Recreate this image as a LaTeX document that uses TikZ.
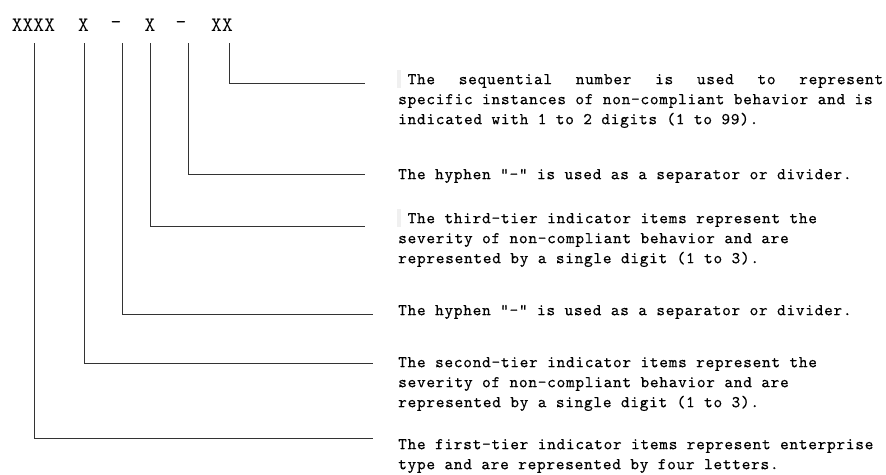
\documentclass[tikz,border=0pt]{standalone}
\usepackage{fontspec}
\newfontfamily\descfont{lmmono10-regular.otf}[LetterSpace=4.5,FakeBold=0.3]
\newfontfamily\codefont{lmmono10-regular.otf}
\begin{document}
\begin{tikzpicture}[x=1pt,y=-1pt,
  lead/.style={draw=black!80, line width=1pt},
  code/.style={font=\codefont\fontsize{20.5}{22}\selectfont, inner sep=0pt, anchor=center},
  desc/.style={font=\descfont\fontsize{16.5}{20}\selectfont, inner sep=0pt, anchor=north west, align=left},
  hilite/.style={fill=black!6, draw=none}]
\useasboundingbox (0,0) rectangle (886,474);
% code labels
\node[code] (k1) at (33.5,25) {XXXX};
\node[code] (k2) at (83.5,25) {X};
\node[code] (k3) at (116,25) {–};
\node[code] (k4) at (150,25) {X};
\node[code] (k5) at (181,25) {–};
\node[code] (k6) at (222,25) {XX};
% leader start and end points
\coordinate (s1) at (34,43);   \coordinate (e1) at (373,438);
\coordinate (s2) at (84,43);   \coordinate (e2) at (373,363);
\coordinate (s3) at (122,43);  \coordinate (e3) at (373,314);
\coordinate (s4) at (150,43);  \coordinate (e4) at (365,226);
\coordinate (s5) at (188,43);  \coordinate (e5) at (365,174);
\coordinate (s6) at (229,43);  \coordinate (e6) at (365,83);
\draw[lead] (s1) |- (e1);
\draw[lead] (s2) |- (e2);
\draw[lead] (s3) |- (e3);
\draw[lead] (s4) |- (e4);
\draw[lead] (s5) |- (e5);
\draw[lead] (s6) |- (e6);
% descriptions
\fill[hilite] (397,70) rectangle (401,88);
\node[desc] (d6) at (398,70) {\rule{0pt}{14pt}\makebox[485pt][l]{\ The\hfill sequential\hfill number\hfill is\hfill used\hfill to\hfill represent}\\specific instances of non-compliant behavior and is\\indicated with 1 to 2 digits (1 to 99).};
\node[desc] (d5) at (398,165) {\rule{0pt}{14pt}The hyphen “-” is used as a separator or divider.};
\fill[hilite] (397,209) rectangle (401,227);
\node[desc] (d4) at (398,209) {\rule{0pt}{14pt}\ The third-tier indicator items represent the\\severity of non-compliant behavior and are\\represented by a single digit (1 to 3).};
\node[desc] (d3) at (398,301) {\rule{0pt}{14pt}The hyphen “-” is used as a separator or divider.};
\node[desc] (d2) at (398,353) {\rule{0pt}{14pt}The second-tier indicator items represent the\\severity of non-compliant behavior and are\\represented by a single digit (1 to 3).};
\node[desc] (d1) at (398,435) {\rule{0pt}{14pt}The first-tier indicator items represent enterprise\\type and are represented by four letters.};
\end{tikzpicture}
\end{document}
